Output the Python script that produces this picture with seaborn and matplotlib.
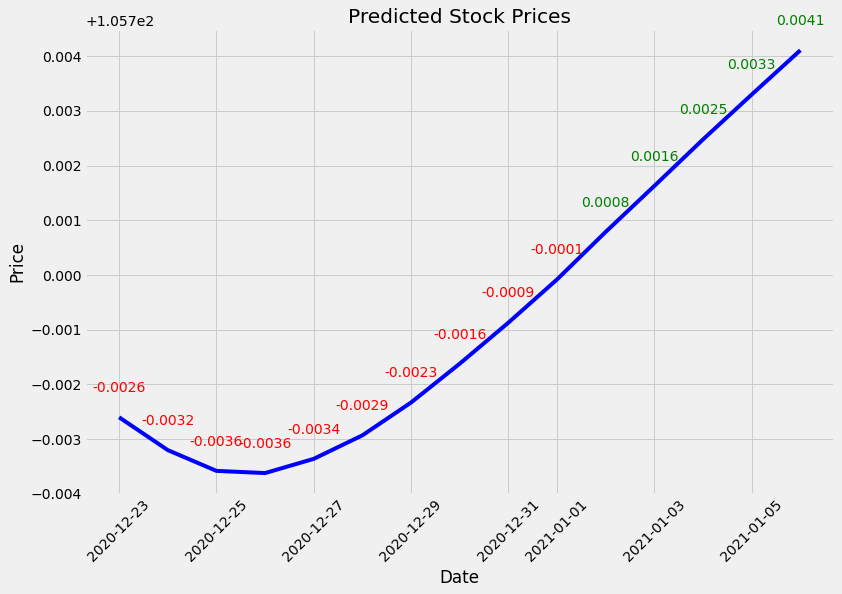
import pandas as pd
import matplotlib
matplotlib.use("Agg")
import matplotlib.pyplot as plt
import seaborn as sns

# predicted prices, stored as offset from a base of 105.7
base_price = 105.7
dates = pd.date_range("2020-12-23", "2021-01-06", freq="D")
offsets = [-0.0026, -0.0032, -0.00358, -0.00362, -0.00336, -0.00293, -0.00233,
           -0.00162, -0.00087, -0.00008, 0.00079, 0.00163, 0.00248, 0.00330, 0.00411]

df = pd.DataFrame({"Date": dates, "Price": [base_price + o for o in offsets]})

plt.style.use("fivethirtyeight")
fig, ax = plt.subplots(figsize=(842 / 72, 594 / 72), dpi=72)
fig.subplots_adjust(left=0.101, right=0.991, top=0.951, bottom=0.168)

sns.lineplot(data=df, x="Date", y="Price", color="blue", linewidth=4, ax=ax)

for d, p, o in zip(df["Date"], df["Price"], offsets):
    ax.text(d, p + 0.00046, f"{o:.4f}", ha="center", va="baseline", fontsize=14,
            color="green" if o > 0 else "red")

ax.set_title("Predicted Stock Prices")
ax.set_xlabel("Date")
ax.set_ylabel("Price")
ax.tick_params(axis="x", rotation=45)

fig.savefig("out.png", dpi=72)
